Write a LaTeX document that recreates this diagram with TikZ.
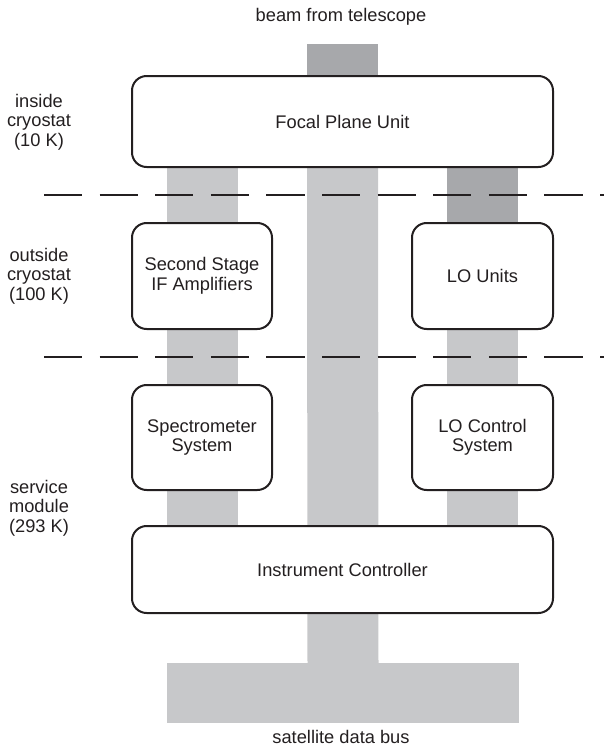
\documentclass[tikz,border=0pt]{standalone}
\usepackage{fontspec}
\setmainfont{Liberation Sans}
\usetikzlibrary{backgrounds}
\definecolor{lite}{RGB}{199,200,202}
\definecolor{darkg}{RGB}{167,168,171}
\definecolor{ink}{RGB}{35,31,32}
\newcommand\diagfont{\fontsize{13.7}{14.6}\selectfont}
\begin{document}
\begin{tikzpicture}[x=0.75pt,y=-0.75pt,
  box/.style={draw=ink, line width=1.5pt, fill=white, rounded corners=11pt,
    inner sep=0pt, outer sep=0pt, align=center, font=\diagfont, text=ink},
  lbl/.style={align=center, font=\diagfont, text=ink, inner sep=0pt},
  litebar/.style={draw=lite, line width=53.25pt},
  darkbar/.style={draw=darkg, line width=53.25pt},
  sepline/.style={draw=ink, line width=0.9pt, dash pattern=on 28.7pt off 13pt}]
\useasboundingbox (0,0) rectangle (604,747);

% boxes
\node[box, minimum width=421*0.75pt, minimum height=91*0.75pt] (fpu) at (342.5,121.5) {Focal Plane Unit};
\node[box, minimum width=140*0.75pt, minimum height=106*0.75pt] (ss) at (202,276) {Second Stage\\IF Amplifiers};
\node[box, minimum width=141*0.75pt, minimum height=106*0.75pt] (lo) at (482.5,276) {LO Units};
\node[box, minimum width=140*0.75pt, minimum height=105*0.75pt] (spec) at (202,437.5) {Spectrometer\\System};
\node[box, minimum width=141*0.75pt, minimum height=105*0.75pt] (loc) at (482.5,437.5) {LO Control\\System};
\node[box, minimum width=421*0.75pt, minimum height=87*0.75pt] (ic) at (342.5,569.5) {Instrument Controller};
\node[fill=lite, inner sep=0pt, outer sep=0pt, minimum width=352*0.75pt, minimum height=60*0.75pt] (bus) at (343,693) {};

% labels
\node[lbl] (beam) at (341,17) {beam from telescope};
\node[lbl] (buslbl) at (341,737) {satellite data bus};
\node[lbl] (zone1) at (39,122) {inside\\cryostat\\(10 K)};
\node[lbl] (zone2) at (39,276) {outside\\cryostat\\(100 K)};
\node[lbl] (zone3) at (39,508) {service\\module\\(293 K)};

% bars
\coordinate (beamtop) at (342.5,44);
\begin{pgfonlayer}{background}
\draw[darkbar] (beamtop) -- (fpu.north);
\draw[litebar] (fpu.south) -- (bus.north);
\draw[litebar] (fpu.south -| ss.center) -- (ic.north -| ss.center);
\draw[darkbar] (fpu.south -| lo.center) -- (lo.north);
\draw[litebar] (lo.south) -- (ic.north -| lo.center);
\end{pgfonlayer}

% dashed separators
\coordinate (d1a) at (44,195);
\coordinate (d1b) at (604,195);
\coordinate (d2a) at (44,357);
\coordinate (d2b) at (604,357);
\draw[sepline] (d1a) -- (d1b);
\draw[sepline] (d2a) -- (d2b);
\end{tikzpicture}
\end{document}
